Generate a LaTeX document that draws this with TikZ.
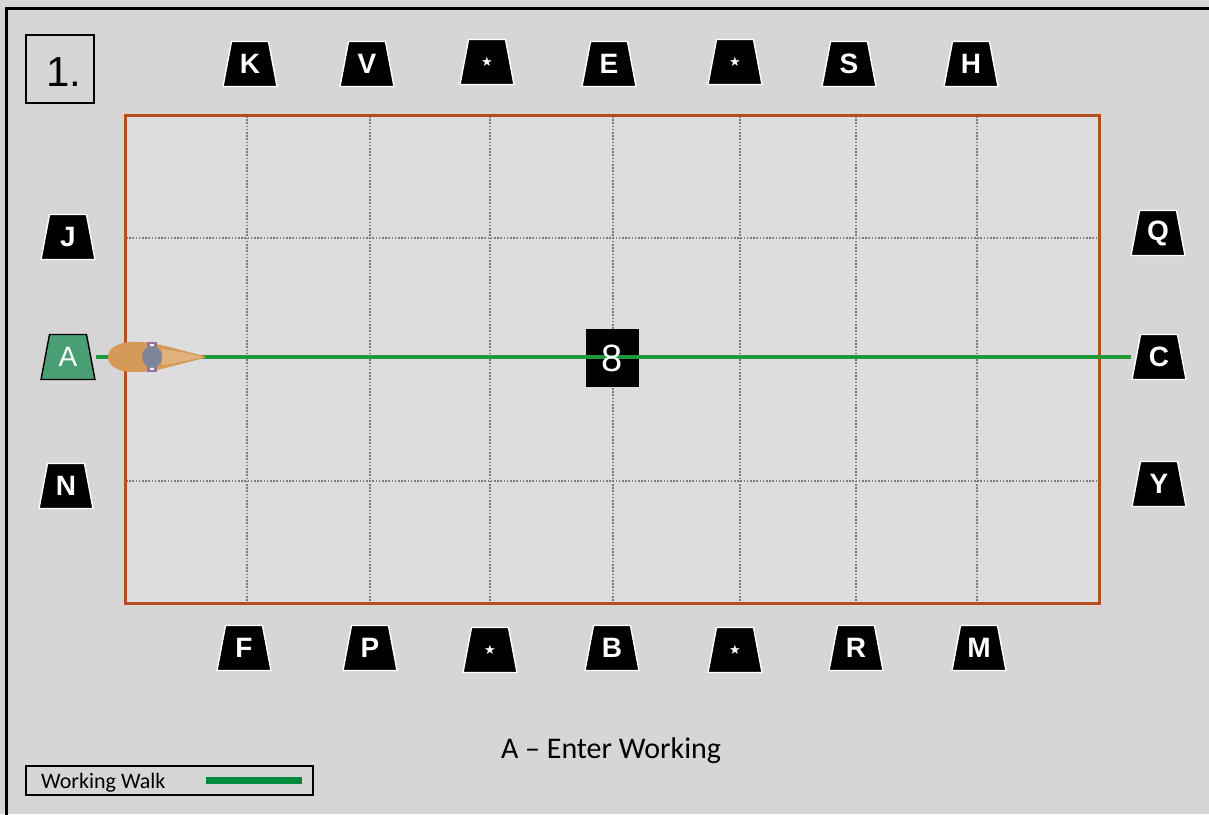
\documentclass[tikz,border=0pt]{standalone}
\usepackage{fontspec}
\setmainfont{Liberation Sans}
\newfontfamily\calfont{Carlito}
\newfontfamily\symfont{DejaVu Sans}
\definecolor{bg}{HTML}{D8D5D6}
\definecolor{arenafill}{HTML}{DDDCDE}
\definecolor{arenaline}{HTML}{B4501E}
\definecolor{gridc}{HTML}{7A7A7A}
\definecolor{walkc}{HTML}{1E9A3C}
\definecolor{legendgreen}{HTML}{008A3E}
\definecolor{markA}{HTML}{4A9E74}
\definecolor{horsec}{HTML}{D59A58}
\definecolor{horsehead}{HTML}{E0B27E}
\definecolor{riderc}{HTML}{7C8598}
\definecolor{legc}{HTML}{9A6E9C}
\tikzset{
  markfill/.store in=\mkfill, markfill=black,
  markline/.store in=\mkline, markline=white,
}
\begin{document}
\begin{tikzpicture}[x=1pt,y=-1pt,
  marker/.style={rectangle, minimum width=56pt, minimum height=47pt, inner sep=0pt,
    text=white, font=\bfseries\fontsize{28}{28}\selectfont,
    path picture={\draw[fill=\mkfill, draw=\mkline, line width=1.4pt]
      ([xshift=9.5pt,yshift=-1pt]path picture bounding box.north west) --
      ([xshift=-9.5pt,yshift=-1pt]path picture bounding box.north east) --
      ([xshift=-1pt,yshift=1pt]path picture bounding box.south east) --
      ([xshift=1pt,yshift=1pt]path picture bounding box.south west) -- cycle;}},
  starmark/.style={marker, font=\symfont\fontsize{13}{13}\selectfont},
  gridline/.style={gridc, line width=1.2pt, dash pattern=on 1.6pt off 1.6pt},
  walk/.style={walkc, line width=3.4pt},
]
\clip (0,0) rectangle (1209,814);
% background and frame
\fill[bg] (0,0) rectangle (1209,814);
\draw[black, line width=3pt] (6.5,820) -- (6.5,8.5) -- (1215,8.5);

% arena
\fill[arenafill] (125,115) rectangle (1099,603);
\foreach \gx in {247,370,490,613,740,856,977}
  \draw[gridline] (\gx,116) -- (\gx,602);
\foreach \gy in {238,481}
  \draw[gridline] (126,\gy) -- (1098,\gy);
\draw[arenaline, line width=3pt] (125,115) rectangle (1099,603);

% number box
\node[draw=black, line width=2pt, minimum width=68pt, minimum height=68pt, inner sep=0pt] (numbox) at (59.5,68.5) {};
\node[anchor=base west, inner sep=0pt, font=\fontsize{42}{42}\selectfont] (numtext) at (46,86) {1.};

% top markers
\node[marker] (K) at (250,64) {K};
\node[marker] (V) at (367,64) {V};
\node[starmark] (T1) at (487,62) {★};
\node[marker] (E) at (609,64) {E};
\node[starmark] (T2) at (735,62) {★};
\node[marker] (S) at (849,64) {S};
\node[marker] (H) at (971,64) {H};

% bottom markers
\node[marker] (F) at (244,648) {F};
\node[marker] (P) at (370,648) {P};
\node[starmark] (B1) at (490,650) {★};
\node[marker] (B) at (612,648) {B};
\node[starmark] (B2) at (735,650) {★};
\node[marker] (R) at (856,648) {R};
\node[marker] (M) at (979,648) {M};

% side markers
\node[marker] (J) at (68,237) {J};
\node[marker, markfill=markA, markline=black, font=\fontsize{28}{28}\selectfont] (A) at (68,357) {A};
\node[marker] (N) at (66,486) {N};
\node[marker] (Q) at (1158,233) {Q};
\node[marker] (C) at (1159,357) {C};
\node[marker] (Y) at (1159,484) {Y};

% centre marker
\node[fill=black, minimum width=53pt, minimum height=58pt, inner sep=0pt] (X) at (612,358) {};

% working walk
\draw[walk] (A.east) -- (C.west);

\node[text=white, inner sep=0pt, font=\fontsize{38}{38}\selectfont] (Xt) at (X.center) {8};

% horse and rider, seen from above
\fill[horsec] (108,357) .. controls (108,345) and (124,341) .. (140,342)
  .. controls (160,343) and (178,350) .. (205,356) -- (205,358)
  .. controls (178,364) and (160,371) .. (140,372)
  .. controls (124,373) and (108,369) .. (108,357) -- cycle;
\fill[horsehead] (162,349) .. controls (178,351) and (192,355) .. (204,357)
  .. controls (192,359) and (178,363) .. (162,365) -- cycle;
\fill[legc] (147,342) rectangle (157,349);
\fill[legc] (147,365) rectangle (157,372);
\fill[white] (150,344) rectangle (154,347);
\fill[white] (150,367) rectangle (154,370);
\fill[riderc] (152,357) ellipse [x radius=10, y radius=11];

% caption and legend
\node[anchor=base, inner sep=0pt, font=\calfont\fontsize{30}{30}\selectfont] (title) at (611,758) {A – Enter Working};
\node[draw=black, line width=1.6pt, minimum width=287pt, minimum height=29pt, inner sep=0pt] (legend) at (169.5,780.5) {};
\node[anchor=base west, inner sep=0pt, font=\calfont\fontsize{22}{22}\selectfont] (legtext) at (41,788) {Working Walk};
\coordinate (legA) at (206,780.5);
\coordinate (legB) at (302,780.5);
\draw[legendgreen, line width=7pt] (legA) -- (legB);
\end{tikzpicture}
\end{document}
